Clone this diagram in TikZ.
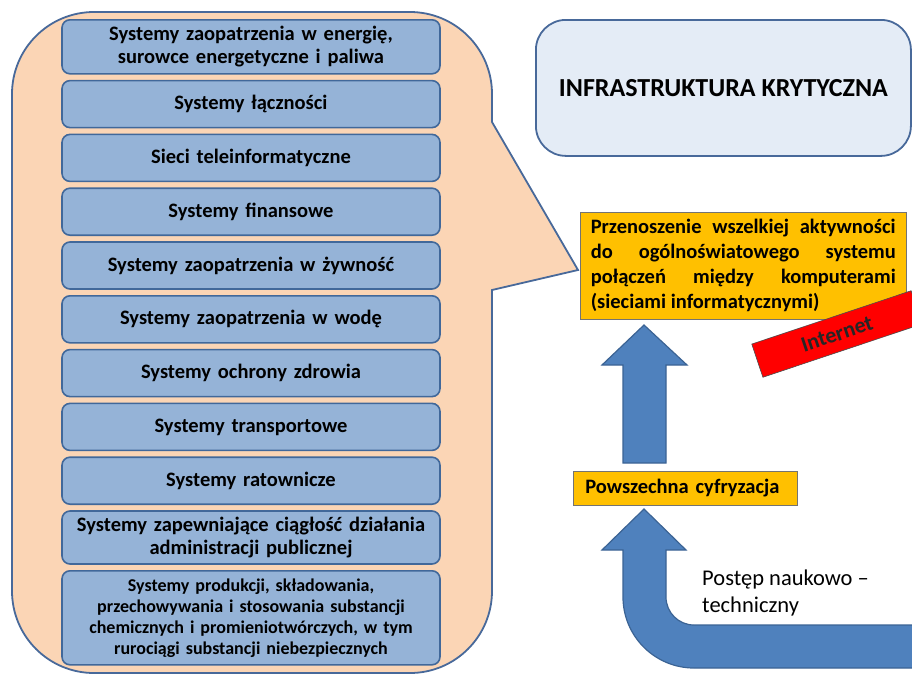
\documentclass[tikz,border=0pt]{standalone}
\usepackage{fontspec}
\setmainfont{Carlito}
\usetikzlibrary{positioning}
\definecolor{peach}{HTML}{FBD5B5}
\definecolor{peachline}{HTML}{48699A}
\definecolor{boxblue}{HTML}{95B3D7}
\definecolor{boxline}{HTML}{41689A}
\definecolor{infrafill}{HTML}{E4ECF6}
\definecolor{amber}{HTML}{FFC000}
\definecolor{arrowblue}{HTML}{4F81BD}
\definecolor{arrowline}{HTML}{3B6394}

\begin{document}
\begin{tikzpicture}[
      x=1pt, y=-1pt, node distance=5.2pt,
      sysbox/.style={draw=boxline, fill=boxblue, line width=1.6pt, rounded corners=8pt,
        text width=370pt, inner xsep=4pt, inner ysep=5pt, align=center, minimum height=47pt,
        font=\bfseries\fontsize{20.5}{23}\selectfont},
      ambox/.style={draw=black!55, fill=amber, line width=0.6pt,
        font=\bfseries\fontsize{20.5}{25}\selectfont},
      blockarrow/.style={draw=arrowline, fill=arrowblue, line width=1.2pt}
      ]

      \path[use as bounding box] (0,0) rectangle (912,675);
      \clip (0,0) rectangle (912,675);

      % dymek z lista systemow
      \path[draw=peachline, fill=peach, line width=1.8pt]
        (12,94) .. controls (12,48.7) and (48.7,12) .. (94,12) -- (410,12)
        .. controls (455.3,12) and (492,48.7) .. (492,94) -- (492,122) -- (578,270)
        -- (492,290) -- (492,591) .. controls (492,636.3) and (455.3,673) .. (410,673)
        -- (94,673) .. controls (48.7,673) and (12,636.3) .. (12,591) -- cycle;

      \path node[sysbox, anchor=north, minimum height=54pt] (s1) at (251,19)
        {Systemy zaopatrzenia w energię,\\surowce energetyczne i paliwa};
      \path node[sysbox, below=of s1] (s2) {Systemy łączności};
      \path node[sysbox, below=of s2] (s3) {Sieci teleinformatyczne};
      \path node[sysbox, below=of s3] (s4) {Systemy finansowe};
      \path node[sysbox, below=of s4] (s5) {Systemy zaopatrzenia w żywność};
      \path node[sysbox, below=of s5] (s6) {Systemy zaopatrzenia w wodę};
      \path node[sysbox, below=of s6] (s7) {Systemy ochrony zdrowia};
      \path node[sysbox, below=of s7] (s8) {Systemy transportowe};
      \path node[sysbox, below=of s8] (s9) {Systemy ratownicze};
      \path node[sysbox, below=of s9, minimum height=53pt] (s10)
        {Systemy zapewniające ciągłość działania\\administracji publicznej};
      \path node[sysbox, below=of s10, minimum height=94pt,
        font=\bfseries\fontsize{18}{21}\selectfont] (s11)
        {Systemy produkcji, składowania,\\przechowywania i stosowania substancji\\chemicznych
        i promieniotwórczych, w tym\\rurociągi substancji niebezpiecznych};

      \path node[draw=peachline, fill=infrafill, line width=1.8pt, rounded corners=30pt,
        minimum width=375pt, minimum height=136pt, anchor=north west,
        font=\bfseries\fontsize{26}{30}\selectfont] (infra) at (535,19)
        {INFRASTRUKTURA KRYTYCZNA};

      \path node[ambox, anchor=north west, text width=305pt, inner xsep=10.5pt,
        minimum height=107pt, align=justify] (aktyw) at (580,212)
        {\hyphenpenalty=10000 Przenoszenie wszelkiej aktywności\linebreak do ogólnoświatowego
        systemu\linebreak połączeń między komputerami\linebreak (sieciami informatycznymi)};

      \path node[draw=black!70, fill=red, line width=0.6pt, rotate=18.5,
        minimum width=168pt, minimum height=35pt, text=black!85,
        font=\bfseries\fontsize{22}{26}\selectfont] (inet) at (837,334) {Internet};

      \path node[ambox, anchor=north west, minimum width=224pt, minimum height=34pt,
        text width=200pt, inner xsep=12pt, align=left] (cyfr) at (573,471)
        {Powszechna cyfryzacja};

      % strzalki
      \path[blockarrow] (623,463) -- (623,365) -- (602,365) -- (644,325) -- (687,365)
        -- (666,365) -- (666,463) -- cycle;
      \path[blockarrow] (644,509) -- (686,550) -- (666,550) -- (666,597)
        .. controls (666,612.5) and (678.5,625) .. (694,625) -- (920,625) -- (920,668)
        -- (694,668) .. controls (654.8,668) and (623,636.2) .. (623,597) -- (623,550)
        -- (602,550) -- cycle;

      \path node[anchor=base west, align=left, inner sep=0pt,
        font=\fontsize{22.5}{27}\selectfont] (postep) at (702,612)
        {Postęp naukowo –\\techniczny};
    \end{tikzpicture}
\end{document}
